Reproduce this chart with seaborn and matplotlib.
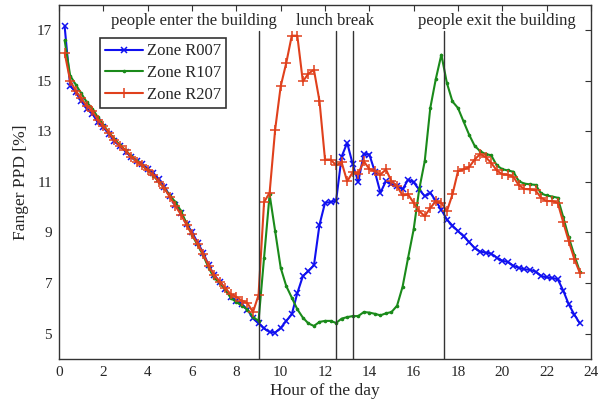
"""
Fanger PPD per zone over one day
"""
import numpy as np
import pandas as pd
import matplotlib
matplotlib.use("Agg")
import matplotlib.pyplot as plt
import seaborn as sns

sns.set_style("white")
plt.rcParams["font.family"] = ["Liberation Serif", "DejaVu Serif"]

# ========== data (15 min steps) ==========
hours = [i * 0.25 for i in range(1, 95)]

ppd_r007 = [17.15, 14.8, 14.55, 14.2, 13.9, 13.7, 13.35, 13.15, 12.9, 12.6,
            12.42, 12.2, 12.0, 11.82, 11.7, 11.5, 11.35, 11.1, 10.8, 10.45,
            10.1, 9.75, 9.35, 9.0, 8.6, 8.2, 7.7, 7.3, 7.05, 6.75,
            6.45, 6.3, 6.15, 5.95, 5.6, 5.4, 5.2, 5.06, 5.04, 5.22,
            5.5, 5.76, 6.6, 7.27, 7.47, 7.7, 9.3, 10.17, 10.2, 10.25,
            12.0, 12.54, 11.7, 11.0, 12.1, 12.08, 11.4, 10.57, 11.03, 10.9,
            10.83, 10.7, 11.09, 10.98, 10.7, 10.43, 10.57, 10.24, 9.9, 9.51,
            9.27, 9.05, 8.85, 8.62, 8.38, 8.24, 8.2, 8.16, 8.0, 7.88,
            7.83, 7.68, 7.6, 7.54, 7.52, 7.45, 7.28, 7.22, 7.2, 7.15,
            6.7, 6.15, 5.75, 5.4]

ppd_r107 = [16.6, 15.2, 14.85, 14.5, 14.15, 13.9, 13.55, 13.25, 12.95, 12.7,
            12.45, 12.25, 12.02, 11.82, 11.65, 11.45, 11.25, 11.0, 10.75, 10.45,
            10.2, 9.85, 9.35, 8.9, 8.5, 8.1, 7.6, 7.2, 7.0, 6.75,
            6.4, 6.25, 6.1, 5.95, 5.65, 5.5, 8.0, 10.5, 9.05, 7.6,
            6.88, 6.42, 5.96, 5.63, 5.4, 5.3, 5.46, 5.5, 5.5, 5.42,
            5.59, 5.65, 5.69, 5.69, 5.85, 5.83, 5.78, 5.72, 5.8, 5.85,
            6.1, 6.85, 8.0, 9.12, 10.7, 11.82, 13.92, 15.07, 16.03, 14.91,
            14.18, 13.92, 13.39, 12.87, 12.43, 12.21, 12.1, 12.05, 11.65, 11.5,
            11.45, 11.4, 11.02, 10.93, 10.9, 10.88, 10.54, 10.46, 10.42, 10.37,
            9.6, 8.8, 8.1, 7.45]

ppd_r207 = [16.1, 15.0, 14.6, 14.3, 14.0, 13.8, 13.45, 13.2, 12.95, 12.65,
            12.42, 12.25, 12.0, 11.8, 11.65, 11.45, 11.27, 11.0, 10.75, 10.4,
            10.05, 9.7, 9.3, 8.92, 8.55, 8.15, 7.68, 7.3, 7.05, 6.8,
            6.55, 6.45, 6.3, 6.2, 5.85, 6.52, 10.2, 10.57, 13.07, 14.78,
            15.7, 16.78, 16.78, 14.97, 15.28, 15.43, 14.2, 11.88, 11.88, 11.66,
            11.77, 11.02, 11.38, 11.33, 11.81, 11.51, 11.42, 11.29, 11.49, 11.02,
            10.83, 10.46, 10.5, 10.17, 9.84, 9.64, 9.97, 10.23, 10.17, 9.84,
            10.5, 11.42, 11.49, 11.58, 11.88, 12.1, 11.98, 11.75, 11.45, 11.3,
            11.28, 11.2, 10.86, 10.72, 10.7, 10.66, 10.37, 10.24, 10.24, 10.17,
            9.4, 8.65, 7.95, 7.4]

zones = ["Zone R007", "Zone R107", "Zone R207"]
zone_colors = ["#1010f0", "#1a8a1a", "#e0401c"]
zone_markers = ["x", ".", "+"]
zone_msizes = [4, 3, 7]

events = [9.0, 12.5, 13.25, 17.35]
event_labels = ["people enter the building", "lunch break", "people exit the building"]
event_label_x = [6.1, 12.45, 19.75]

df = pd.DataFrame({"hour": hours * 3,
                   "ppd": ppd_r007 + ppd_r107 + ppd_r207,
                   "zone": np.repeat(zones, len(hours))})

# ========== plot ==========
fig = plt.figure(figsize=(6.03, 4.05), dpi=100)
ax = fig.add_axes([0.098, 0.114, 0.882, 0.874])

for zone, col, mk, ms in zip(zones, zone_colors, zone_markers, zone_msizes):
    sns.lineplot(data=df[df["zone"] == zone], x="hour", y="ppd", ax=ax,
                 color=col, marker=mk, markersize=ms, markeredgewidth=1.1,
                 markeredgecolor=col, linewidth=1.5, label=zone)

for ex in events:
    ax.plot([ex, ex], [4, 16.95], color="#333333", linewidth=1.0)

for lx, txt in zip(event_label_x, event_labels):
    ax.text(lx, 17.35, txt, ha="center", va="center", fontsize=12)

ax.set_xlim(0, 24)
ax.set_ylim(4, 18)
ax.set_xticks(range(0, 25, 2))
ax.set_yticks(range(5, 18, 2))
ax.tick_params(direction="in", top=True, right=True, length=4, labelsize=11,
               color="#333333", pad=5)
for sp in ax.spines.values():
    sp.set_color("#333333")
    sp.set_linewidth(1.0)
ax.set_xlabel("Hour of the day", fontsize=12.5, labelpad=3)
ax.set_ylabel("Fanger PPD [%]", fontsize=12.5, labelpad=6)

leg = ax.legend(loc="upper left", bbox_to_anchor=(0.077, 0.905), fontsize=12,
                frameon=True, fancybox=False, framealpha=1, edgecolor="#333333",
                handlelength=2.3, borderpad=0.3, labelspacing=0.35,
                handletextpad=0.2, borderaxespad=0)
leg.get_frame().set_linewidth(1.2)

plt.savefig("out.png", dpi=100)
plt.close()
